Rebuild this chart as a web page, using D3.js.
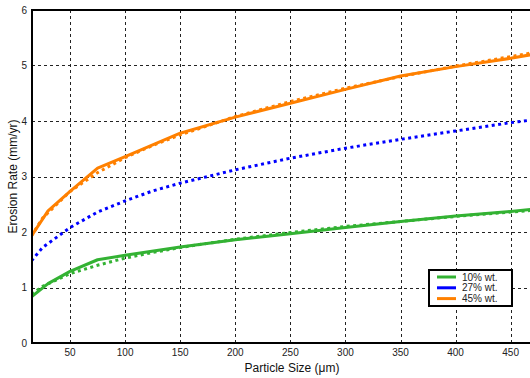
<!DOCTYPE html>
<html>
<head>
<meta charset="utf-8">
<script src="https://cdn.jsdelivr.net/npm/d3@7"></script>
<style>
  html, body { margin: 0; padding: 0; background: #fff; }
  svg { display: block; font-family: "Liberation Sans", Arial, sans-serif; }
</style>
</head>
<body>
<svg id="chart" width="530" height="378"></svg>
<script>
// Measured erosion rate (solid) at these particle sizes
const sizeMeasured = [15, 30, 50, 75, 100, 150, 200, 250, 300, 350, 400, 450, 470];
const rate10Measured = [0.83, 1.07, 1.29, 1.50, 1.58, 1.73, 1.86, 1.97, 2.08, 2.19, 2.29, 2.37, 2.41];
const rate45Measured = [1.93, 2.38, 2.73, 3.15, 3.36, 3.78, 4.07, 4.32, 4.57, 4.81, 4.98, 5.13, 5.20];

// Fitted trends (dotted)
const sizeFit = [15, 25, 50, 75, 100, 125, 150, 200, 250, 300, 350, 400, 450, 470];
const rate10Fit = [0.88, 1.02, 1.25, 1.40, 1.53, 1.63, 1.72, 1.87, 1.99, 2.10, 2.19, 2.28, 2.36, 2.39];
const rate27Fit = [1.48, 1.72, 2.08, 2.36, 2.56, 2.74, 2.88, 3.12, 3.33, 3.51, 3.67, 3.82, 3.97, 4.02];
const rate45Fit = [1.93, 2.25, 2.73, 3.07, 3.34, 3.56, 3.75, 4.08, 4.35, 4.59, 4.80, 4.99, 5.16, 5.23];

const xTicks = [50, 100, 150, 200, 250, 300, 350, 400, 450];
const yTicks = [0, 1, 2, 3, 4, 5, 6];
const legendLabels = ["10% wt.", "27% wt.", "45% wt."];
const colors = ["#33b233", "#0000ff", "#ff8000"];

const svg = d3.select("#chart");
const plotLeft = 32, plotTop = 10, plotBottom = 343, plotRight = 530;

const x = d3.scaleLinear().domain([15, 470]).range([31.5, 532.7]);
const y = d3.scaleLinear().domain([0, 6]).range([plotBottom, plotTop]);

// clip region for the plot area
svg.append("defs").append("clipPath").attr("id", "plotClip")
  .append("rect").attr("x", plotLeft).attr("y", plotTop)
  .attr("width", plotRight - plotLeft).attr("height", plotBottom - plotTop);

// grid
const grid = svg.append("g").attr("stroke", "#222").attr("stroke-width", 1).attr("stroke-dasharray", "3,3");
grid.selectAll("line.v").data(xTicks).join("line")
  .attr("class", "v")
  .attr("x1", d => Math.round(x(d)) + 0.5).attr("x2", d => Math.round(x(d)) + 0.5)
  .attr("y1", plotTop).attr("y2", plotBottom);
grid.selectAll("line.h").data(yTicks.filter(d => d > 0 && d < 6)).join("line")
  .attr("class", "h")
  .attr("x1", plotLeft).attr("x2", plotRight)
  .attr("y1", d => Math.round(y(d)) + 0.5).attr("y2", d => Math.round(y(d)) + 0.5);

// series
const plot = svg.append("g").attr("clip-path", "url(#plotClip)");
const line = d3.line().x(d => x(d[0])).y(d => y(d[1]));

function drawSeries(xs, ys, color, dotted) {
  plot.append("path")
    .datum(xs.map((v, i) => [v, ys[i]]))
    .attr("d", line)
    .attr("fill", "none")
    .attr("stroke", color)
    .attr("stroke-width", 3)
    .attr("stroke-linejoin", "round")
    .attr("stroke-dasharray", dotted ? "3,3.5" : null);
}

drawSeries(sizeFit, rate10Fit, colors[0], true);
drawSeries(sizeFit, rate27Fit, colors[1], true);
drawSeries(sizeFit, rate45Fit, colors[2], true);
drawSeries(sizeMeasured, rate10Measured, colors[0], false);
drawSeries(sizeMeasured, rate45Measured, colors[2], false);

// axes lines
const axisG = svg.append("g").attr("stroke", "#000").attr("stroke-width", 2);
axisG.append("line").attr("x1", plotLeft).attr("x2", plotLeft).attr("y1", plotTop - 1).attr("y2", plotBottom + 1);
axisG.append("line").attr("x1", plotLeft - 1).attr("x2", plotRight).attr("y1", plotTop).attr("y2", plotTop);
axisG.append("line").attr("x1", plotLeft - 1).attr("x2", plotRight).attr("y1", plotBottom).attr("y2", plotBottom);

// tick labels
svg.append("g").selectAll("text").data(xTicks).join("text")
  .attr("x", d => x(d)).attr("y", 356)
  .attr("text-anchor", "middle")
  .attr("font-size", 10).attr("fill", "#222")
  .text(d => d);

svg.append("g").selectAll("text").data(yTicks).join("text")
  .attr("x", 27).attr("y", d => y(d) + 3.5)
  .attr("text-anchor", "end")
  .attr("font-size", 10).attr("fill", "#222")
  .text(d => d);

// axis titles
svg.append("text")
  .attr("x", 292).attr("y", 372)
  .attr("text-anchor", "middle")
  .attr("font-size", 12).attr("fill", "#111")
  .text("Particle Size (μm)");

svg.append("text")
  .attr("transform", `translate(17,${(plotTop + plotBottom) / 2}) rotate(-90)`)
  .attr("text-anchor", "middle")
  .attr("font-size", 12).attr("fill", "#111")
  .text("Erosion Rate (mm/yr)");

// legend
const lg = svg.append("g");
lg.append("rect")
  .attr("x", 429).attr("y", 270).attr("width", 83).attr("height", 36)
  .attr("fill", "#fff").attr("stroke", "#000").attr("stroke-width", 2);
legendLabels.forEach((lab, i) => {
  const yy = 277 + i * 10.8;
  lg.append("line")
    .attr("x1", 437).attr("x2", 456).attr("y1", yy).attr("y2", yy)
    .attr("stroke", colors[i]).attr("stroke-width", 3);
  lg.append("text")
    .attr("x", 462).attr("y", yy + 3.5)
    .attr("font-size", 10).attr("fill", "#222")
    .text(lab);
});
</script>
</body>
</html>
